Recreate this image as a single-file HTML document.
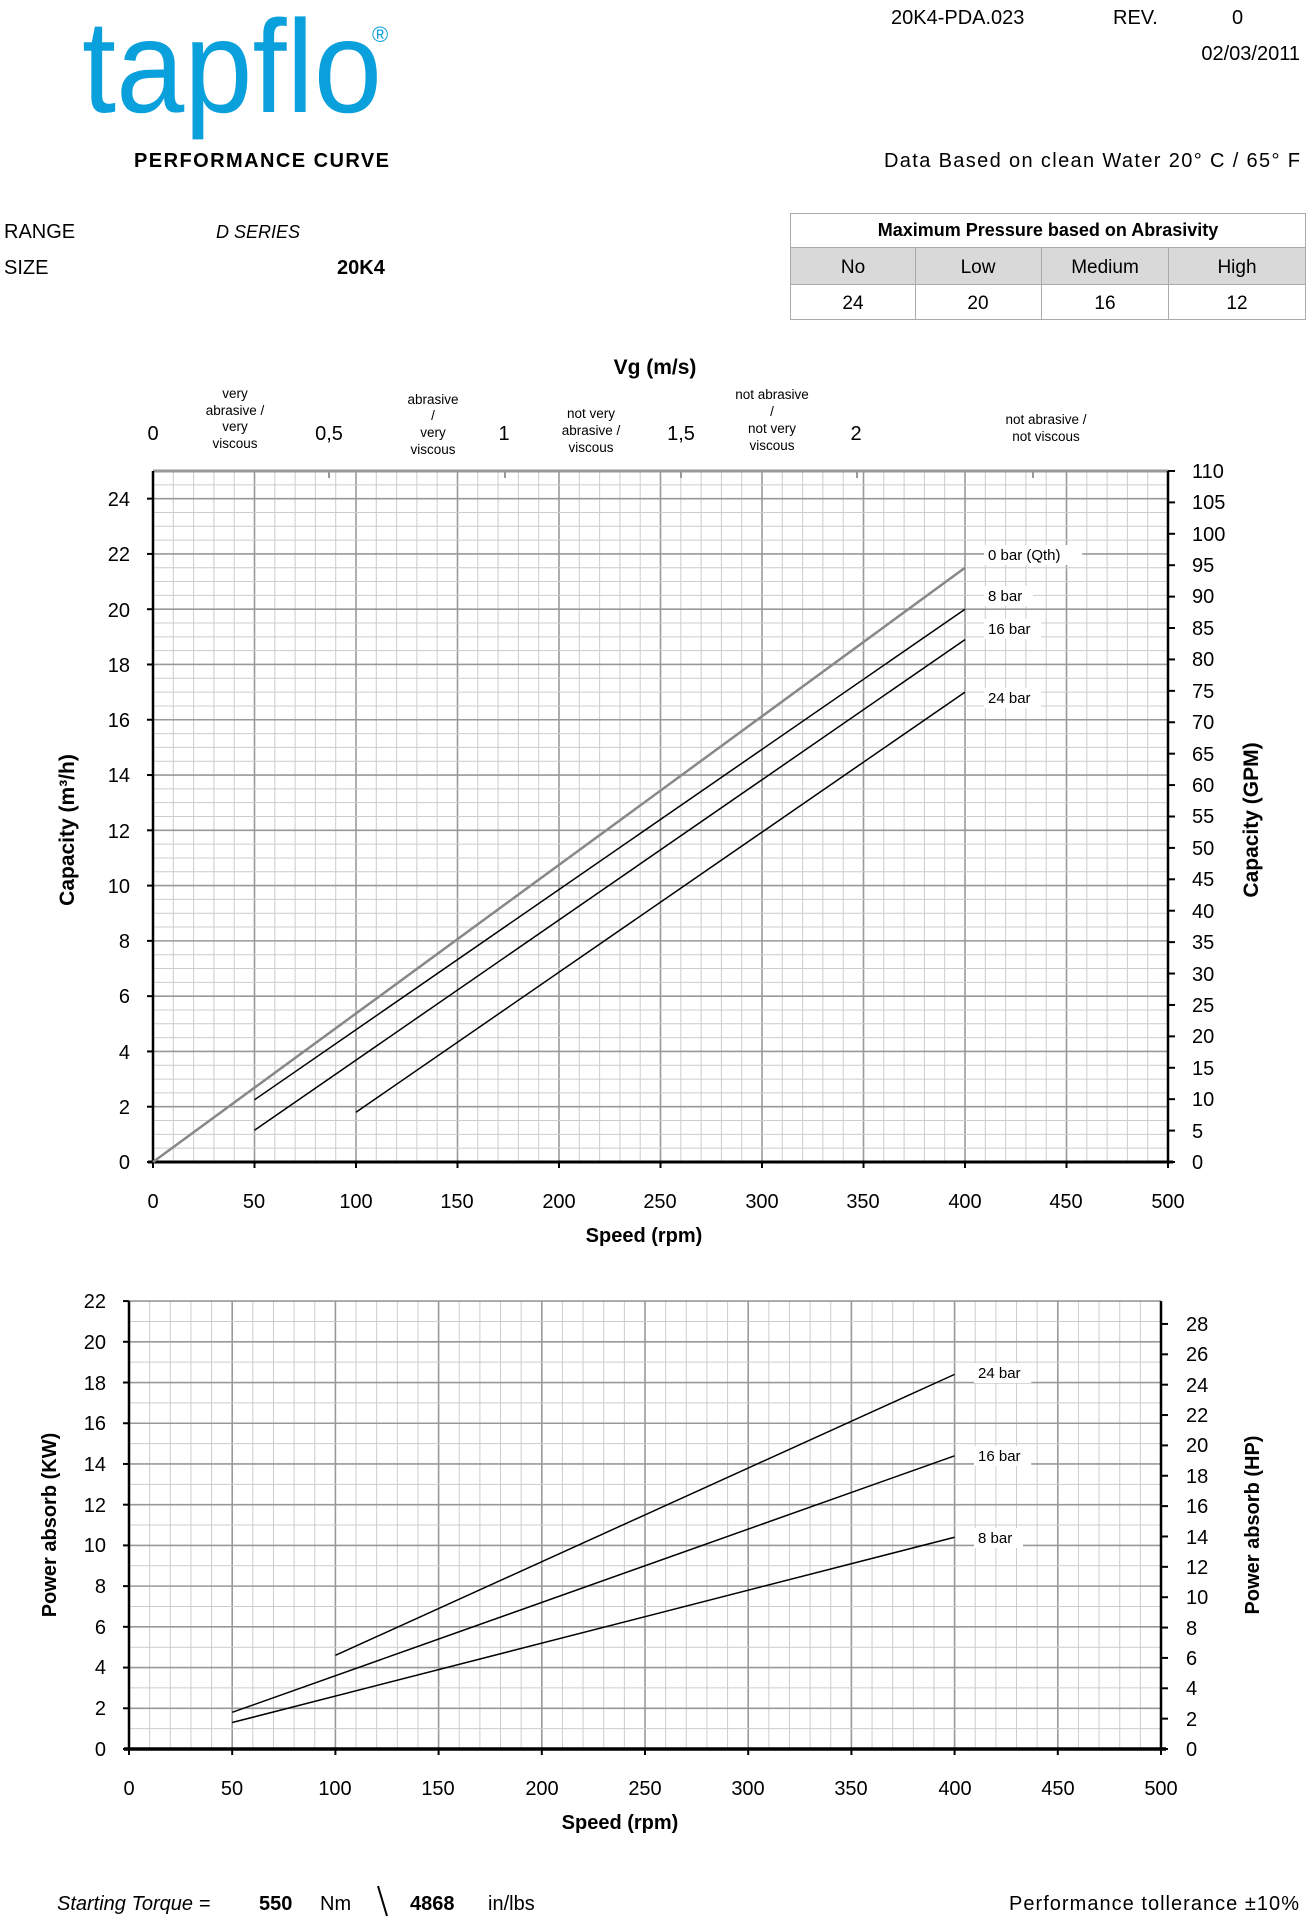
<!DOCTYPE html>
<html><head><meta charset="utf-8"><style>
html,body{margin:0;padding:0;background:#fff}
svg{display:block}
text{font-family:"Liberation Sans",sans-serif;fill:#000}
</style></head><body>
<svg id="s" width="1312" height="1920" viewBox="0 0 1312 1920" xmlns="http://www.w3.org/2000/svg">
<rect width="1312" height="1920" fill="#fff"/>
<!-- logo -->
<text x="82" y="112" font-size="132" fill="#0aa0dc" style="fill:#0aa0dc" textLength="300" lengthAdjust="spacingAndGlyphs">tapflo</text>
<text x="372" y="42" font-size="22" style="fill:#0aa0dc">®</text>
<text x="891" y="24" font-size="20">20K4-PDA.023</text>
<text x="1113" y="24" font-size="20">REV.</text>
<text x="1232" y="24" font-size="20">0</text>
<text x="1300" y="60" font-size="20" text-anchor="end">02/03/2011</text>
<text x="134" y="167" font-size="20" font-weight="bold" textLength="255">PERFORMANCE CURVE</text>
<text x="884" y="167" font-size="20" textLength="416">Data Based on clean Water 20° C / 65° F</text>
<text x="4" y="238" font-size="20">RANGE</text>
<text x="216" y="238" font-size="18" font-style="italic">D SERIES</text>
<text x="4" y="274" font-size="20">SIZE</text>
<text x="337" y="274" font-size="20" font-weight="bold">20K4</text>
<!-- table -->
<rect x="790" y="247" width="515" height="37" fill="#d9d9d9"/>
<g stroke="#aaa" stroke-width="1" fill="none">
<rect x="790.5" y="213.5" width="515" height="106"/>
<line x1="790" y1="247.5" x2="1305" y2="247.5"/>
<line x1="790" y1="284.5" x2="1305" y2="284.5"/>
<line x1="915.5" y1="247" x2="915.5" y2="320"/>
<line x1="1041.5" y1="247" x2="1041.5" y2="320"/>
<line x1="1168.5" y1="247" x2="1168.5" y2="320"/>
</g>
<text x="1048" y="236" font-size="18" font-weight="bold" text-anchor="middle">Maximum Pressure based on Abrasivity</text>
<g font-size="19" text-anchor="middle">
<text x="853" y="273">No</text><text x="978" y="273">Low</text><text x="1105" y="273">Medium</text><text x="1237" y="273">High</text>
<text x="853" y="309">24</text><text x="978" y="309">20</text><text x="1105" y="309">16</text><text x="1237" y="309">12</text>
</g>
<g id="grid1"></g>
<g id="grid2"></g>
<!-- chart1 texts -->
<text x="655" y="374" font-size="21" font-weight="bold" text-anchor="middle">Vg (m/s)</text>
<g font-size="20" text-anchor="middle">
<text x="153" y="440">0</text><text x="329" y="440">0,5</text><text x="504" y="440">1</text><text x="681" y="440">1,5</text><text x="856" y="440">2</text>
</g>
<g font-size="13.5" text-anchor="middle">
<text x="235" y="398">very</text><text x="235" y="415">abrasive /</text><text x="235" y="431">very</text><text x="235" y="448">viscous</text>
<text x="433" y="404">abrasive</text><text x="433" y="420">/</text><text x="433" y="437">very</text><text x="433" y="454">viscous</text>
<text x="591" y="418">not very</text><text x="591" y="435">abrasive /</text><text x="591" y="452">viscous</text>
<text x="772" y="399">not  abrasive</text><text x="772" y="416">/</text><text x="772" y="433">not very</text><text x="772" y="450">viscous</text>
<text x="1046" y="424">not  abrasive /</text><text x="1046" y="441">not  viscous</text>
</g>
<g font-size="20" text-anchor="end">
<text x="130" y="1169">0</text><text x="130" y="1114">2</text><text x="130" y="1059">4</text><text x="130" y="1003">6</text><text x="130" y="948">8</text><text x="130" y="893">10</text><text x="130" y="838">12</text><text x="130" y="782">14</text><text x="130" y="727">16</text><text x="130" y="672">18</text><text x="130" y="617">20</text><text x="130" y="561">22</text><text x="130" y="506">24</text>
</g>
<g font-size="20">
<text x="1192" y="1169">0</text><text x="1192" y="1138">5</text><text x="1192" y="1106">10</text><text x="1192" y="1075">15</text><text x="1192" y="1043">20</text><text x="1192" y="1012">25</text><text x="1192" y="981">30</text><text x="1192" y="949">35</text><text x="1192" y="918">40</text><text x="1192" y="886">45</text><text x="1192" y="855">50</text><text x="1192" y="823">55</text><text x="1192" y="792">60</text><text x="1192" y="761">65</text><text x="1192" y="729">70</text><text x="1192" y="698">75</text><text x="1192" y="666">80</text><text x="1192" y="635">85</text><text x="1192" y="603">90</text><text x="1192" y="572">95</text><text x="1192" y="541">100</text><text x="1192" y="509">105</text><text x="1192" y="478">110</text>
</g>
<g font-size="20" text-anchor="middle">
<text x="153" y="1208">0</text><text x="254" y="1208">50</text><text x="356" y="1208">100</text><text x="457" y="1208">150</text><text x="559" y="1208">200</text><text x="660" y="1208">250</text><text x="762" y="1208">300</text><text x="863" y="1208">350</text><text x="965" y="1208">400</text><text x="1066" y="1208">450</text><text x="1168" y="1208">500</text>
</g>
<text x="644" y="1242" font-size="20" font-weight="bold" text-anchor="middle">Speed (rpm)</text>
<text transform="translate(74,830) rotate(-90)" font-size="21" font-weight="bold" text-anchor="middle">Capacity (m³/h)</text>
<text transform="translate(1258,820) rotate(-90)" font-size="21" font-weight="bold" text-anchor="middle">Capacity (GPM)</text>
<!-- chart2 texts -->
<g font-size="20" text-anchor="end">
<text x="106" y="1756">0</text><text x="106" y="1715">2</text><text x="106" y="1674">4</text><text x="106" y="1634">6</text><text x="106" y="1593">8</text><text x="106" y="1552">10</text><text x="106" y="1512">12</text><text x="106" y="1471">14</text><text x="106" y="1430">16</text><text x="106" y="1390">18</text><text x="106" y="1349">20</text><text x="106" y="1308">22</text>
</g>
<g font-size="20">
<text x="1186" y="1756">0</text><text x="1186" y="1726">2</text><text x="1186" y="1695">4</text><text x="1186" y="1665">6</text><text x="1186" y="1635">8</text><text x="1186" y="1604">10</text><text x="1186" y="1574">12</text><text x="1186" y="1544">14</text><text x="1186" y="1513">16</text><text x="1186" y="1483">18</text><text x="1186" y="1452">20</text><text x="1186" y="1422">22</text><text x="1186" y="1392">24</text><text x="1186" y="1361">26</text><text x="1186" y="1331">28</text>
</g>
<g font-size="20" text-anchor="middle">
<text x="129" y="1795">0</text><text x="232" y="1795">50</text><text x="335" y="1795">100</text><text x="438" y="1795">150</text><text x="542" y="1795">200</text><text x="645" y="1795">250</text><text x="748" y="1795">300</text><text x="851" y="1795">350</text><text x="955" y="1795">400</text><text x="1058" y="1795">450</text><text x="1161" y="1795">500</text>
</g>
<text x="620" y="1829" font-size="20" font-weight="bold" text-anchor="middle">Speed (rpm)</text>
<text transform="translate(56,1525) rotate(-90)" font-size="20" font-weight="bold" text-anchor="middle">Power absorb (KW)</text>
<text transform="translate(1259,1525) rotate(-90)" font-size="20" font-weight="bold" text-anchor="middle">Power absorb (HP)</text>
<!-- footer -->
<text x="57" y="1910" font-size="20" font-style="italic">Starting Torque =</text>
<text x="259" y="1910" font-size="20" font-weight="bold">550</text>
<text x="320" y="1910" font-size="20">Nm</text>
<line x1="378" y1="1886" x2="387" y2="1916" stroke="#000" stroke-width="2"/>
<text x="410" y="1910" font-size="20" font-weight="bold">4868</text>
<text x="488" y="1910" font-size="20">in/lbs</text>
<text x="1009" y="1910" font-size="20" textLength="290">Performance tollerance ±10%</text>
</svg>
<script>
var NS="http://www.w3.org/2000/svg";
function L(g,x1,y1,x2,y2,c,w){var e=document.createElementNS(NS,"line");e.setAttribute("x1",x1);e.setAttribute("y1",y1);e.setAttribute("x2",x2);e.setAttribute("y2",y2);e.setAttribute("stroke",c);e.setAttribute("stroke-width",w);g.appendChild(e);}
function T(g,x,y,s){var r=document.createElementNS(NS,"rect");r.setAttribute("x",x-4);r.setAttribute("y",y-15);r.setAttribute("width",s.length*8.2+8);r.setAttribute("height",20);r.setAttribute("fill","#fff");g.appendChild(r);var t=document.createElementNS(NS,"text");t.setAttribute("x",x);t.setAttribute("y",y);t.setAttribute("font-size","15");t.textContent=s;g.appendChild(t);}
var g=document.getElementById("grid1");
var X0=153,XP=2.03,Y0=1162,YP=27.64,TOP=471;
function cx(v){return X0+v*XP} function cy(v){return Y0-v*YP}
for(var i=0;i<=50;i++){var x=cx(i*10);L(g,x,TOP,x,Y0,i%5==0?"#999":"#ccc",i%5==0?1.6:1);}
for(var j=0;j<=50;j++){var y=cy(j*0.5);L(g,X0,y,cx(500),y,j%4==0?"#999":"#ccc",j%4==0?1.6:1);}
L(g,X0,TOP,cx(500),TOP,"#999",3);
for(var k=0;k<=5;k++){var x=X0+k*176;L(g,x,TOP,x,TOP+7,"#999",2);}
L(g,X0,TOP,X0,Y0,"#000",2.5);L(g,cx(500),TOP,cx(500),Y0,"#000",2.5);L(g,X0-5,Y0,cx(500)+5,Y0,"#000",3);
for(var j=0;j<=24;j+=2)L(g,X0-6,cy(j),X0,cy(j),"#000",2);
for(var j=0;j<=110;j+=5){var y=Y0-j*6.282;L(g,cx(500),y,cx(500)+7,y,"#000",2);}
for(var i=0;i<=10;i++)L(g,cx(i*50),Y0,cx(i*50),Y0+6,"#000",2);
L(g,cx(0),cy(0),cx(400),cy(21.5),"#888",2.5);
L(g,cx(50),cy(2.25),cx(400),cy(20),"#000",1.5);
L(g,cx(50),cy(1.15),cx(400),cy(18.9),"#000",1.5);
L(g,cx(100),cy(1.8),cx(400),cy(17),"#000",1.5);
T(g,988,560,"0 bar (Qth)");T(g,988,601,"8 bar");T(g,988,634,"16 bar");T(g,988,703,"24 bar");
var g2=document.getElementById("grid2");
var A0=129,AP=2.064,B0=1749,BP=20.36;
function px(v){return A0+v*AP} function py(v){return B0-v*BP}
for(var i=0;i<=50;i++){var x=px(i*10);L(g2,x,py(22),x,B0,i%5==0?"#999":"#ccc",i%5==0?1.6:1);}
for(var j=0;j<=22;j++){var y=py(j);L(g2,A0,y,px(500),y,j%2==0?"#999":"#ccc",j%2==0?1.6:1);}
L(g2,A0,py(22),A0,B0,"#000",2.5);L(g2,px(500),py(22),px(500),B0,"#000",2.5);L(g2,A0-5,B0,px(500)+5,B0,"#000",3.5);
for(var j=0;j<=22;j+=2)L(g2,A0-6,py(j),A0,py(j),"#000",2);
for(var j=0;j<=28;j+=2){var y=B0-j*15.18;L(g2,px(500),y,px(500)+7,y,"#000",2);}
for(var i=0;i<=10;i++)L(g2,px(i*50),B0,px(i*50),B0+6,"#000",2);
L(g2,px(100),py(4.6),px(400),py(18.4),"#000",1.5);
L(g2,px(50),py(1.8),px(400),py(14.4),"#000",1.5);
L(g2,px(50),py(1.3),px(400),py(10.4),"#000",1.5);
T(g2,978,1378,"24 bar");T(g2,978,1461,"16 bar");T(g2,978,1543,"8 bar");
</script>
</body></html>
